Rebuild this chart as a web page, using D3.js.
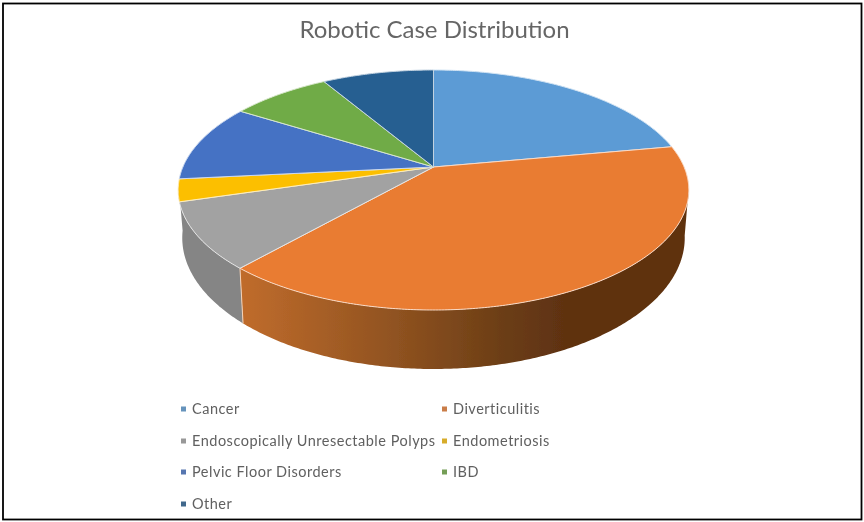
<!DOCTYPE html>
<html><head><meta charset="utf-8">
<script src="https://cdn.jsdelivr.net/npm/d3@7"></script>
<style>html,body{margin:0;padding:0;background:#fff}svg{display:block}text{font-family:Lato,"Open Sans",sans-serif}</style>
</head><body><svg id="c" width="864" height="522"></svg>
<script>
const categories=["Cancer","Diverticulitis","Endoscopically Unresectable Polyps","Endometriosis","Pelvic Floor Disorders","IBD","Other"];
const values=[22.1,39.4,8.9,3.0,10.5,7.6,8.5];
const colors=["#5b9bd5","#e97c32","#a2a2a2","#fcbf05","#4472c4","#6fab46","#255e91"];
const title="Robotic Case Distribution";
const svg=d3.select("#c");
svg.append("rect").attr("x",3).attr("y",3.5).attr("width",858.5).attr("height",516).attr("fill","#fff").attr("stroke","#000").attr("stroke-width",1.8);
const defs=svg.append("defs");
const grad=defs.append("linearGradient").attr("id","wallO").attr("gradientUnits","userSpaceOnUse").attr("x1",240).attr("x2",690).attr("y1",0).attr("y2",0);
[[0,"#c06c2c"],[0.35,"#8f5220"],[0.58,"#6c3e16"],[0.72,"#5f3211"],[1,"#5f3211"]].forEach(s=>grad.append("stop").attr("offset",s[0]).attr("stop-color",s[1]));
defs.append("filter").attr("id","soft").append("feGaussianBlur").attr("stdDeviation",0.4);
const g=svg.append("g").attr("filter","url(#soft)");
const cx=433.5,cy=167,a=115.6,b=250.6,k=0.1916;
const top3=t=>{const u=Math.sin(t),v=-Math.cos(t),d=1-k*v;return [cx+b*u/d,cy+a*v/d];};
const bot3=t=>{const p=top3(t);return [cx+(p[0]-cx)*0.984,cy+45.7+(p[1]-cy)*1.093];};
const line=d3.line();
const arcs=d3.pie().sort(null).value(d=>d)(values);
const samp=(s,e)=>{const n=Math.max(2,Math.ceil((e-s)/0.01));return d3.range(n+1).map(i=>s+(e-s)*i/n);};
const toRad=Math.PI/180;
const ranges=[[100*toRad,arcs[1].endAngle,"url(#wallO)"],[arcs[2].startAngle,262*toRad,"#858585"]];
ranges.forEach(r=>{
  const ts=samp(r[0],r[1]);
  const pts=ts.map(top3).concat(ts.slice().reverse().map(bot3));
  g.append("path").attr("d",line(pts)+"Z").attr("fill",r[2]);
});
g.append("path").attr("d",line([top3(arcs[1].endAngle),bot3(arcs[1].endAngle)])).attr("stroke","#f6d2b6").attr("stroke-width",1).attr("fill","none");
arcs.forEach((d,i)=>{
  const ts=samp(d.startAngle,d.endAngle);
  const pts=[[cx,cy]].concat(ts.map(top3));
  g.append("path").attr("d",line(pts)+"Z").attr("fill",colors[i]).attr("stroke",d3.interpolateRgb(colors[i],"#fff")(0.72)).attr("stroke-width",1).attr("stroke-linejoin","round");
});
g.append("text").attr("x",434.5).attr("y",38).attr("text-anchor","middle").attr("font-size",24).attr("fill","#666").text(title);
const legendX=[181,442],legendTX=[192,453],legendY=[408,440,471,503];
categories.forEach((c,i)=>{
  const col=i%2,row=Math.floor(i/2);
  g.append("rect").attr("x",legendX[col]).attr("y",legendY[row]-1.5).attr("width",5).attr("height",5).attr("fill",d3.interpolateRgb(colors[i],"#808080")(0.3));
  g.append("text").attr("x",legendTX[col]).attr("y",legendY[row]+5.5).attr("font-size",14.5).attr("letter-spacing",0.5).attr("fill","#606060").text(c);
});
</script></body></html>
